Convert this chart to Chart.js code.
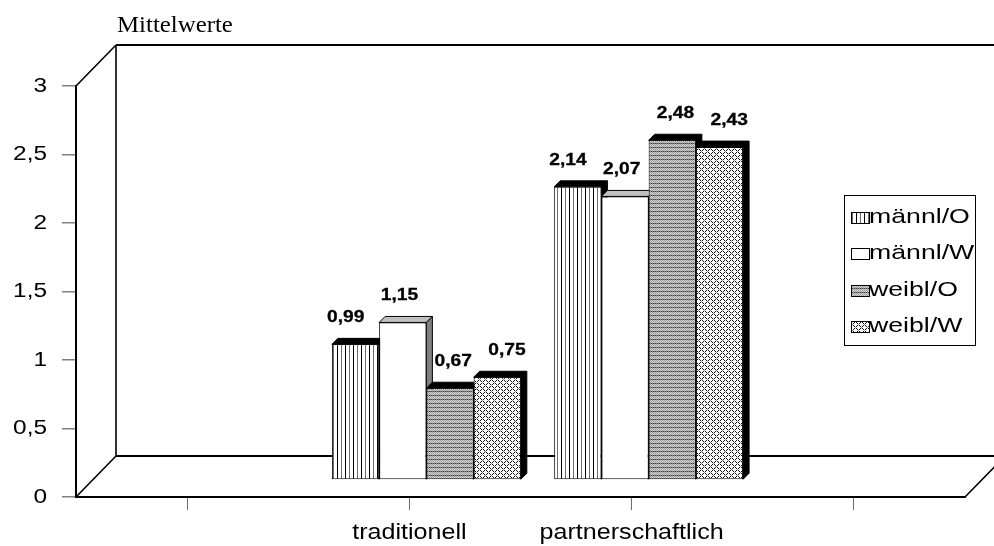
<!DOCTYPE html>
<html lang="de">
<head>
<meta charset="utf-8">
<title>Mittelwerte</title>
<script src="https://cdn.jsdelivr.net/npm/chart.js@4"></script>
<style>
  html, body { margin: 0; padding: 0; background: #ffffff; }
  #c { display: block; }
</style>
</head>
<body>
<canvas id="c" width="994" height="546"></canvas>
<script>
// ---- data ----
const categories  = ['', 'traditionell', 'partnerschaftlich', ''];
const seriesNames = ['männl/O', 'männl/W', 'weibl/O', 'weibl/W'];
const maennlO = [null, 0.99, 2.14, null];
const maennlW = [null, 1.15, 2.07, null];
const weiblO  = [null, 0.67, 2.48, null];
const weiblW  = [null, 0.75, 2.43, null];
const yMin = 0, yMax = 3, yStep = 0.5;
const axisTitle = 'Mittelwerte';

// ---- look ----
const SANS  = "'Liberation Sans', Arial, sans-serif";
const SERIF = "'Liberation Serif', 'Times New Roman', serif";
const WALL_DX = 40, WALL_DY = 41;   // depth of the chart box
const BAR_SHIFT = 17;               // bars stand this far behind the front edge
const BAR_DEPTH = 6;                // thickness of the bar tops and sides

const canvas = document.getElementById('c');
const mainCtx = canvas.getContext('2d');

function makePattern(w, h, paint) {
  const t = document.createElement('canvas');
  t.width = w; t.height = h;
  const g = t.getContext('2d');
  g.fillStyle = '#ffffff';
  g.fillRect(0, 0, w, h);
  paint(g);
  return mainCtx.createPattern(t, 'repeat');
}
function px(g, x, y, col) { g.fillStyle = col; g.fillRect(x, y, 1, 1); }

// vertical stripes
const stripeFill = makePattern(8, 1, g => { px(g, 0, 0, '#000000'); px(g, 4, 0, '#6e6e6e'); });
// fine grey weave
const weaveFill = makePattern(2, 4, g => {
  const rows = [['#3a3a3a', '#8e8e8e'], ['#cfcfcf', '#9c9c9c'], ['#9c9c9c', '#d8d8d8'], ['#cfcfcf', '#9c9c9c']];
  rows.forEach((r, y) => r.forEach((col, x) => px(g, x, y, col)));
});
// diagonal cross-hatch
const hatchFill = makePattern(6, 6, g => {
  for (let y = 0; y < 6; y++) for (let x = 0; x < 6; x++) {
    if ((x - y + 6) % 6 === 0 || (x + y) % 6 === 0) px(g, x, y, '#111111');
  }
  px(g, 0, 0, '#8a8a8a'); px(g, 3, 3, '#8a8a8a');
});

const fills = [stripeFill, '#ffffff', weaveFill, hatchFill];
const topColors  = ['#000000', '#c0c0c0', '#000000', '#000000'];
const sideColors = ['#000000', '#808080', '#000000', '#000000'];
const seriesData = [maennlO, maennlW, weiblO, weiblW];

function fmt(v) { return String(Number(Number(v).toFixed(2))).replace('.', ','); }

// text set a little wide, optionally with a hairline stroke for weight
function stretchedText(ctx, text, x, y, sx, weight) {
  ctx.save();
  ctx.translate(x, y);
  ctx.scale(sx, 1);
  ctx.fillText(text, 0, 0);
  if (weight) {
    ctx.lineWidth = weight;
    ctx.strokeStyle = ctx.fillStyle;
    ctx.strokeText(text, 0, 0);
  }
  ctx.restore();
}

function seg(ctx, x1, y1, x2, y2) {
  ctx.beginPath(); ctx.moveTo(x1, y1); ctx.lineTo(x2, y2); ctx.stroke();
}

const boxPlugin = {
  id: 'box3d',
  beforeDatasetsDraw(chart) {
    const ctx = chart.ctx;
    const a = chart.chartArea;
    const L = a.left, R = a.right, T = a.top, B = a.bottom;

    // walls and floor
    ctx.save();
    ctx.strokeStyle = '#000000';
    ctx.lineWidth = 1.6;
    seg(ctx, L, T, L + WALL_DX, T - WALL_DY);
    seg(ctx, L + WALL_DX, T - WALL_DY, L + WALL_DX, B - WALL_DY);
    seg(ctx, L, B, L + WALL_DX, B - WALL_DY);
    seg(ctx, R, B, R + WALL_DX, B - WALL_DY);
    seg(ctx, R + WALL_DX, T - WALL_DY, R + WALL_DX, B - WALL_DY);
    ctx.lineWidth = 2;
    seg(ctx, L + WALL_DX, T - WALL_DY, R + WALL_DX, T - WALL_DY);
    seg(ctx, L + WALL_DX, B - WALL_DY, R + WALL_DX, B - WALL_DY);
    ctx.restore();

    // bars stand inside the box; tops and sides first, fronts follow
    ctx.save();
    ctx.translate(BAR_SHIFT, -BAR_SHIFT);
    const d = BAR_DEPTH;
    ctx.lineWidth = 1;
    ctx.strokeStyle = '#000000';
    for (let i = 0; i < categories.length; i++) {
      chart.data.datasets.forEach((ds, di) => {
        if (ds.data[i] == null) return;
        const el = chart.getDatasetMeta(di).data[i];
        if (!el) return;
        const left = el.x - el.width / 2, right = el.x + el.width / 2;
        const top = el.y, bottom = el.base;
        ctx.fillStyle = topColors[di];
        ctx.beginPath();
        ctx.moveTo(left, top); ctx.lineTo(left + d, top - d);
        ctx.lineTo(right + d, top - d); ctx.lineTo(right, top); ctx.closePath();
        ctx.fill(); ctx.stroke();
        ctx.fillStyle = sideColors[di];
        ctx.beginPath();
        ctx.moveTo(right, top); ctx.lineTo(right + d, top - d);
        ctx.lineTo(right + d, bottom - d); ctx.lineTo(right, bottom); ctx.closePath();
        ctx.fill(); ctx.stroke();
      });
    }
  },
  afterDatasetsDraw(chart) {
    const ctx = chart.ctx;
    ctx.restore();

    // value labels, fanned slightly with the perspective
    ctx.save();
    ctx.fillStyle = '#000000';
    ctx.font = 'bold 17px ' + SANS;
    ctx.textAlign = 'center';
    ctx.textBaseline = 'middle';
    const n = chart.data.datasets.length;
    chart.data.datasets.forEach((ds, di) => {
      chart.getDatasetMeta(di).data.forEach((el, i) => {
        const v = ds.data[i];
        if (v == null) return;
        const fan = (di - (n - 1) / 2) * 6.5;
        stretchedText(ctx, fmt(v), el.x + BAR_SHIFT + fan, el.y - BAR_SHIFT - 27, 1.13, 0.3);
      });
    });
    ctx.restore();
  },
  afterDraw(chart) {
    const ctx = chart.ctx;
    const a = chart.chartArea;
    ctx.save();
    ctx.fillStyle = '#000000';

    // value axis labels
    const ys = chart.scales.y;
    ctx.font = '20px ' + SANS;
    ctx.textAlign = 'right';
    ctx.textBaseline = 'middle';
    ys.ticks.forEach((t, i) => {
      stretchedText(ctx, t.label, ys.right - 29, ys.getPixelForTick(i), 1.22, 0);
    });

    // category labels
    const xs = chart.scales.x;
    ctx.font = '22px ' + SANS;
    ctx.textAlign = 'center';
    xs.ticks.forEach((t, i) => {
      if (!t.label) return;
      stretchedText(ctx, t.label, xs.getPixelForTick(i), xs.top + 36, 1.14, 0);
    });

    // axis caption above the box
    ctx.font = '23px ' + SERIF;
    ctx.textAlign = 'left';
    ctx.textBaseline = 'alphabetic';
    stretchedText(ctx, axisTitle, a.left + WALL_DX + 1, 32, 1.08, 0);

    // legend
    const bx = 844.5, by = 195.5, bw = 131, bh = 150;
    ctx.fillStyle = '#ffffff';
    ctx.fillRect(bx, by, bw, bh);
    ctx.strokeStyle = '#000000';
    ctx.lineWidth = 1;
    ctx.strokeRect(bx, by, bw, bh);
    ctx.font = '21px ' + SANS;
    ctx.textBaseline = 'middle';
    chart.data.datasets.forEach((ds, di) => {
      const cy = 217 + di * 36.5;
      const sy = Math.round(cy - 5.5) + 0.5;
      ctx.fillStyle = ds.backgroundColor;
      ctx.fillRect(851.5, sy, 18, 11);
      ctx.lineWidth = 1;
      ctx.strokeStyle = '#000000';
      ctx.strokeRect(851.5, sy, 18, 11);
      ctx.fillStyle = '#000000';
      stretchedText(ctx, ds.label, 869, cy, 1.27, 0);
    });
    ctx.restore();
  }
};

new Chart(canvas, {
  type: 'bar',
  data: {
    labels: categories,
    datasets: seriesNames.map((name, i) => ({
      label: name,
      data: seriesData[i],
      backgroundColor: fills[i],
      borderColor: '#000000',
      borderWidth: 1,
      borderSkipped: false,
      categoryPercentage: 0.85,
      barPercentage: 1.0
    }))
  },
  options: {
    responsive: false,
    animation: false,
    devicePixelRatio: 1,
    events: [],
    layout: { padding: { top: 86, right: 29, left: 0, bottom: 0 } },
    plugins: {
      legend: { display: false },
      tooltip: { enabled: false },
      title: { display: false }
    },
    scales: {
      x: {
        type: 'category',
        offset: true,
        grid: { offset: false, drawOnChartArea: false, drawTicks: true, tickLength: 13, color: '#6a6a6a', lineWidth: 1 },
        border: { display: true, color: '#000000', width: 2 },
        ticks: { display: false, autoSkip: false, maxRotation: 0 },
        afterFit(s) { s.height = 49; }
      },
      y: {
        min: yMin,
        max: yMax,
        grid: { drawOnChartArea: false, drawTicks: true, tickLength: 14, color: '#808080', lineWidth: 1.5 },
        border: { display: true, color: '#000000', width: 2 },
        ticks: { display: false, stepSize: yStep, callback: v => fmt(v) },
        afterFit(s) { s.width = 76; }
      }
    }
  },
  plugins: [boxPlugin]
});
</script>
</body>
</html>
